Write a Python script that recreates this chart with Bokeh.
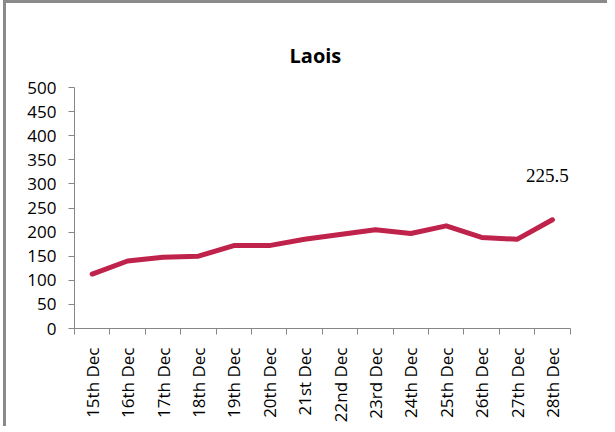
import numpy as np
from bokeh.plotting import figure
from bokeh.models import Range1d, FixedTicker, SingleIntervalTicker, Title, ColumnDataSource, LabelSet
from bokeh.embed import file_html
from bokeh.resources import INLINE

# ---- data ----
dates = ["15th Dec", "16th Dec", "17th Dec", "18th Dec", "19th Dec", "20th Dec", "21st Dec",
         "22nd Dec", "23rd Dec", "24th Dec", "25th Dec", "26th Dec", "27th Dec", "28th Dec"]
values = [113, 140, 148, 150, 172, 172, 185, 195, 205, 197, 213, 189, 185, 225.5]
title_text = "Laois"
last_label = "225.5"

FONT = "Open Sans"
LINE_COLOR = "#BF224A"
AXIS_COLOR = "#868686"

n = len(dates)
xs = np.arange(n) + 0.5
src = ColumnDataSource(dict(x=xs, y=values))
lab_src = ColumnDataSource(dict(x=[xs[-1]], y=[values[-1]], t=[last_label]))

p = figure(width=604, height=426, output_backend="svg", toolbar_location=None,
           x_range=Range1d(0, n + 1), y_range=Range1d(0, 500),
           min_border_left=68, min_border_right=5, min_border_top=84, min_border_bottom=101)
p.styles = {"margin-left": "3px",
            "border-left": "3px solid #8a8a8a", "border-top": "3px solid #8a8a8a"}

p.title = Title(text=title_text, align="left", text_font=FONT, text_font_size="20px",
                text_font_style="bold", text_color="black", offset=215, standoff=37)

p.line("x", "y", source=src, line_color=LINE_COLOR, line_width=5,
       line_cap="round", line_join="round")

p.add_layout(LabelSet(x="x", y="y", text="t", source=lab_src, x_offset=-5, y_offset=44,
                      text_align="center", text_baseline="middle",
                      text_font=FONT, text_font_size="19px", text_color="black"))

p.xgrid.visible = False
p.ygrid.visible = False
p.outline_line_color = None
p.background_fill_color = "white"
p.border_fill_color = "white"

# x axis
xa = p.xaxis[0]
xa.bounds = (0, n)
xa.ticker = FixedTicker(ticks=list(xs), minor_ticks=list(np.arange(n + 1)))
xa.major_label_overrides = {float(x): d for x, d in zip(xs, dates)}
xa.major_label_orientation = np.pi / 2
xa.major_tick_out = 0
xa.major_tick_in = 0
xa.minor_tick_out = 6
xa.minor_tick_in = 0
xa.minor_tick_line_color = AXIS_COLOR
xa.axis_line_color = AXIS_COLOR
xa.major_label_standoff = 13
xa.major_label_text_font = FONT
xa.major_label_text_font_size = "17px"
xa.major_label_text_color = "black"

# y axis
ya = p.yaxis[0]
ya.ticker = SingleIntervalTicker(interval=50, num_minor_ticks=0)
ya.major_tick_out = 6
ya.major_tick_in = 0
ya.minor_tick_out = 0
ya.minor_tick_in = 0
ya.axis_line_color = AXIS_COLOR
ya.major_tick_line_color = AXIS_COLOR
ya.major_label_standoff = 12
ya.major_label_text_font = FONT
ya.major_label_text_font_size = "17px"
ya.major_label_text_color = "black"

open("out.html", "w").write(file_html(p, INLINE))
